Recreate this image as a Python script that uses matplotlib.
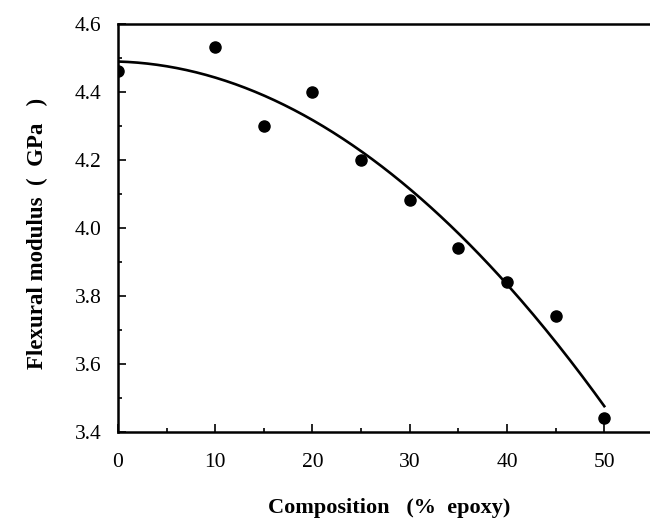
import numpy as np
import matplotlib
matplotlib.use("Agg")
import matplotlib.pyplot as plt
from matplotlib.ticker import MultipleLocator

plt.rcParams["font.family"] = ["Liberation Serif", "DejaVu Serif"]

# flexural modulus vs epoxy content
epoxy = [0, 10, 15, 20, 25, 30, 35, 40, 45, 50]
modulus = [4.46, 4.53, 4.30, 4.40, 4.20, 4.08, 3.94, 3.84, 3.74, 3.44]

# second order fit through the measurements
coef = np.polyfit(epoxy, modulus, 2)
xs = np.linspace(min(epoxy), max(epoxy), 200)
ys = np.polyval(coef, xs)

fig = plt.figure(figsize=(6.5, 5.25), dpi=100)
ax = fig.add_axes([0.1815, 0.1777, 0.8185, 0.7772])

ax.plot(xs, ys, color="black", lw=1.9)
ax.plot(epoxy, modulus, "o", color="black", ms=8)

ax.set_xlim(0, 54.7)
ax.set_ylim(3.4, 4.6)
ax.xaxis.set_major_locator(MultipleLocator(10))
ax.xaxis.set_minor_locator(MultipleLocator(5))
ax.yaxis.set_major_locator(MultipleLocator(0.2))
ax.yaxis.set_minor_locator(MultipleLocator(0.1))
ax.yaxis.set_major_formatter(plt.FormatStrFormatter("%.1f"))

ax.spines["right"].set_visible(False)
for s in ["left", "bottom", "top"]:
    ax.spines[s].set_linewidth(1.8)

ax.tick_params(which="both", direction="in", top=False, right=False, width=1.2)
ax.tick_params(which="major", length=6, labelsize=15.5)
ax.tick_params(which="minor", length=3)
ax.tick_params(axis="x", which="major", pad=15)
ax.tick_params(axis="y", which="major", pad=12)

ax.set_xlabel("Composition   (%  epoxy)", fontsize=16, fontweight="bold", va="center")
ax.xaxis.set_label_coords(0.509, -0.187)
ax.set_ylabel("Flexural modulus  (  GPa   )", fontsize=16.5, fontweight="bold", va="center")
ax.yaxis.set_label_coords(-0.152, 0.486)

fig.savefig("out.png", dpi=100)
plt.close(fig)
